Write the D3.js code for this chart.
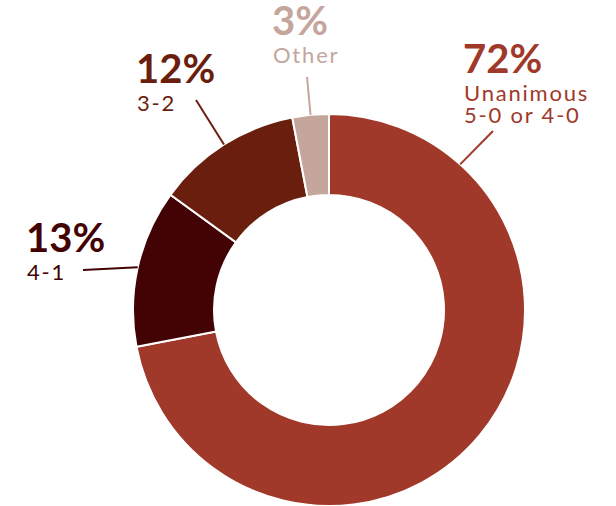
<!DOCTYPE html>
<html>
<head>
<meta charset="utf-8">
<script src="https://cdn.jsdelivr.net/npm/d3@7"></script>
<style>
  html, body { margin: 0; padding: 0; background: #fff; }
  svg { display: block; }
  text { font-family: "Lato", "Open Sans", sans-serif; }
</style>
</head>
<body>
<script>
(function() {

  /* chart data */
  var categories = ["Unanimous\n5-0 or 4-0", "4-1", "3-2", "Other"];
  var values = [72, 13, 12, 3];
  var pctLabels = ["72%", "13%", "12%", "3%"];
  var colors = ["#a0392a", "#430203", "#6a1e0e", "#c4a69c"];

  var width = 616, height = 506,
      cx = 329, cy = 310,
      outerR = 196, innerR = 115;

  // where each label sits (text left edge, top line baseline) and where its leader line ends
  var layout = [
    {x: 463, y: 73, angle: 42, line: [493, 131]},
    {x: 26, y: 252, angle: null, line: [83, 270]},
    {x: 136, y: 83, angle: null, line: [196, 100]},
    {x: 272, y: 35, angle: null, line: [307, 77]}
  ];

  var svg = d3.select("body").append("svg")
      .attr("width", width)
      .attr("height", height);

  var g = svg.append("g")
      .attr("transform", "translate(" + cx + "," + cy + ")");

  var pie = d3.pie().sort(null).value(function(d) { return d; });
  var arcs = pie(values);

  var arc = d3.arc().innerRadius(innerR).outerRadius(outerR);

  g.selectAll(".slice")
      .data(arcs)
    .enter().append("path")
      .attr("class", "slice")
      .attr("d", arc)
      .style("fill", function(d, i) { return colors[i]; })
      .style("stroke", "#fff")
      .style("stroke-width", 2);

  // leader lines from the outer edge, then the labels
  arcs.forEach(function(d, i) {
    var l = layout[i];
    var a = l.angle != null ? l.angle * Math.PI / 180 : (d.startAngle + d.endAngle) / 2;
    var px = cx + Math.sin(a) * outerR,
        py = cy - Math.cos(a) * outerR;
    svg.append("line")
        .attr("x1", l.line[0]).attr("y1", l.line[1])
        .attr("x2", px).attr("y2", py)
        .style("stroke", colors[i])
        .style("stroke-width", 2);

    svg.append("text")
        .attr("x", l.x)
        .attr("y", l.y)
        .style("fill", colors[i])
        .style("font-size", "40px")
        .style("font-weight", "bold")
        .text(pctLabels[i]);

    categories[i].split("\n").forEach(function(line, j) {
      svg.append("text")
          .attr("x", l.x + 1)
          .attr("y", l.y + 28 + j * 22)
          .style("fill", colors[i])
          .style("font-size", "22px")
          .style("letter-spacing", "1.8px")
          .text(line);
    });
  });

})();
</script>
</body>
</html>
